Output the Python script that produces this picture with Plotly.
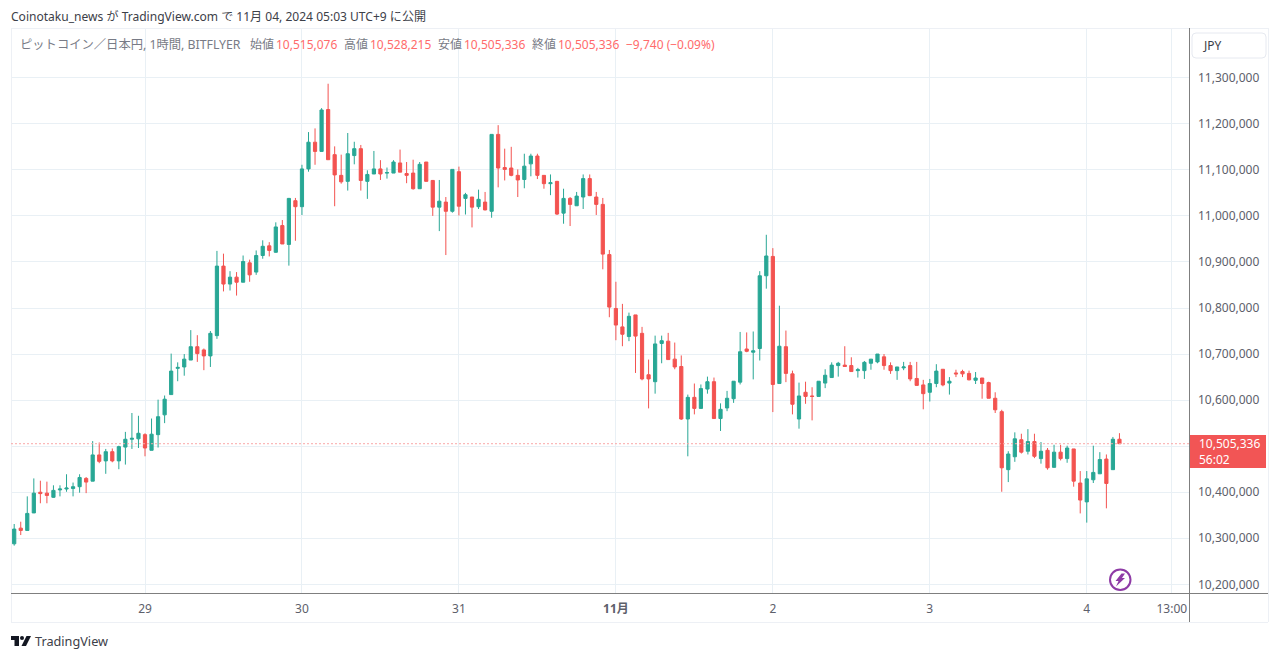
import pandas as pd
import plotly.graph_objects as go

# Hourly BTC/JPY candles, in thousands of yen
opens = [
    10288, 10322, 10317, 10355, 10400, 10398, 10389, 10405, 10407, 10408,
    10412, 10430, 10424, 10481, 10468, 10488, 10468, 10498, 10515, 10516,
    10525, 10491, 10525, 10568, 10612, 10669, 10672, 10687, 10716, 10709,
    10696, 10740, 10891, 10852, 10867, 10856, 10898, 10878, 10914, 10935,
    10921, 10979, 10938, 11033, 11020, 11102, 11160, 11140, 11231, 11133,
    11088, 11075, 11131, 11146, 11075, 11091, 11102, 11093, 11093, 11115,
    11092, 11093, 11059, 11117, 11077, 11019, 11030, 11010, 11096, 11038,
    11041, 11020, 11030, 11010, 11177, 11105, 11104, 11088, 11079, 11113,
    11130, 11088, 11070, 11075, 11006, 11038, 11022, 11041, 11081, 11041,
    11025, 10916, 10799, 10759, 10738, 10785, 10745, 10655, 10640, 10723,
    10728, 10689, 10673, 10559, 10606, 10582, 10624, 10640, 10560, 10583,
    10603, 10639, 10711, 10704, 10712, 10870, 10912, 10636, 10716, 10657,
    10559, 10617, 10609, 10608, 10637, 10649, 10675, 10676, 10675, 10664,
    10664, 10680, 10683, 10694, 10675, 10664, 10670, 10675, 10647, 10633,
    10617, 10636, 10667, 10637, 10659, 10662, 10658, 10643, 10648, 10638,
    10604, 10575, 10449, 10477, 10514, 10489, 10510, 10473, 10491, 10454,
    10487, 10473, 10494, 10420, 10379, 10427, 10440, 10472, 10449, 10515.076,
]
highs = [
    10331, 10336, 10391, 10430, 10425, 10423, 10415, 10415, 10439, 10421,
    10439, 10433, 10511, 10508, 10494, 10495, 10501, 10531, 10572, 10566,
    10528, 10560, 10601, 10610, 10701, 10682, 10700, 10752, 10741, 10712,
    10750, 10924, 10918, 10880, 10878, 10914, 10905, 10925, 10947, 10943,
    10986, 10991, 11039, 11039, 11111, 11182, 11190, 11234, 11287, 11151,
    11133, 11180, 11161, 11154, 11099, 11141, 11121, 11105, 11121, 11144,
    11117, 11122, 11117, 11117, 11078, 11078, 11041, 11101, 11107, 11050,
    11041, 11057, 11052, 11177, 11197, 11146, 11150, 11101, 11135, 11135,
    11135, 11088, 11090, 11076, 11059, 11041, 11052, 11090, 11090, 11052,
    11039, 10926, 10857, 10809, 10790, 10785, 10759, 10688, 10740, 10740,
    10746, 10725, 10697, 10612, 10636, 10634, 10651, 10649, 10593, 10620,
    10641, 10748, 10747, 10749, 10880, 10959, 10930, 10805, 10751, 10664,
    10638, 10640, 10628, 10641, 10667, 10682, 10683, 10717, 10693, 10670,
    10685, 10689, 10700, 10700, 10682, 10672, 10683, 10683, 10683, 10644,
    10646, 10678, 10667, 10650, 10666, 10666, 10664, 10661, 10648, 10640,
    10617, 10579, 10489, 10530, 10527, 10537, 10527, 10509, 10496, 10503,
    10503, 10501, 10494, 10446, 10446, 10501, 10487, 10482, 10520, 10528.215,
]
lows = [
    10284, 10307, 10317, 10355, 10376, 10376, 10388, 10391, 10401, 10391,
    10399, 10398, 10424, 10463, 10440, 10465, 10450, 10460, 10494, 10496,
    10478, 10491, 10497, 10550, 10612, 10641, 10653, 10687, 10683, 10665,
    10672, 10733, 10836, 10838, 10827, 10856, 10857, 10872, 10907, 10912,
    10920, 10939, 10892, 10946, 11002, 11096, 11111, 11140, 11122, 11021,
    11070, 11055, 11112, 11055, 11037, 11091, 11078, 11081, 11093, 11095,
    11071, 11057, 11059, 11075, 11000, 10967, 10915, 11007, 11001, 11003,
    10975, 11015, 11012, 10996, 11062, 11077, 11086, 11041, 11060, 11086,
    11080, 11059, 11045, 11002, 10983, 10978, 11022, 11015, 11043, 11002,
    10884, 10780, 10730, 10717, 10728, 10659, 10643, 10582, 10614, 10680,
    10688, 10667, 10557, 10478, 10569, 10582, 10614, 10560, 10533, 10576,
    10594, 10634, 10704, 10645, 10686, 10842, 10574, 10636, 10639, 10569,
    10538, 10592, 10556, 10608, 10626, 10649, 10651, 10673, 10662, 10649,
    10646, 10666, 10680, 10666, 10657, 10644, 10665, 10641, 10632, 10580,
    10597, 10628, 10630, 10612, 10650, 10650, 10643, 10635, 10603, 10604,
    10572, 10401, 10422, 10466, 10484, 10482, 10474, 10462, 10449, 10454,
    10469, 10464, 10412, 10354, 10334, 10420, 10440, 10365, 10449, 10505.336,
]
closes = [
    10320, 10317, 10354, 10398, 10397, 10393, 10404, 10407, 10409, 10412,
    10432, 10422, 10481, 10467, 10488, 10468, 10499, 10515, 10517, 10528,
    10496, 10526, 10564, 10602, 10663, 10671, 10689, 10716, 10701, 10696,
    10745, 10891, 10852, 10867, 10856, 10901, 10872, 10914, 10934, 10925,
    10976, 10939, 11038, 11020, 11102, 11160, 11140, 11230, 11122, 11089,
    11074, 11135, 11146, 11077, 11090, 11102, 11091, 11094, 11117, 11095,
    11088, 11059, 11112, 11075, 11019, 11032, 11010, 11101, 11021, 11046,
    11019, 11036, 11013, 11177, 11104, 11101, 11088, 11078, 11108, 11130,
    11088, 11070, 11072, 11004, 11038, 11025, 11043, 11081, 11044, 11025,
    10917, 10802, 10763, 10743, 10782, 10739, 10646, 10646, 10722, 10729,
    10688, 10672, 10559, 10606, 10582, 10625, 10640, 10560, 10580, 10604,
    10641, 10705, 10706, 10707, 10870, 10913, 10634, 10717, 10658, 10591,
    10609, 10608, 10608, 10641, 10654, 10676, 10680, 10673, 10662, 10666,
    10682, 10689, 10700, 10675, 10664, 10672, 10672, 10646, 10632, 10614,
    10636, 10663, 10633, 10641, 10657, 10657, 10644, 10648, 10636, 10604,
    10579, 10453, 10483, 10516, 10487, 10510, 10478, 10489, 10453, 10487,
    10473, 10496, 10424, 10383, 10429, 10443, 10471, 10419, 10515.076, 10505.336,
]

first_bar = "2024-10-28 04:00"
day_ticks = ["2024-10-29", "2024-10-30", "2024-10-31", "2024-11-01",
             "2024-11-02", "2024-11-03", "2024-11-04", "2024-11-04 13:00"]
day_labels = ["29", "30", "31", "<b>11月</b>", "2", "3", "4", "13:00"]
price_ticks = [10200000 + 100000 * i for i in range(12)]

UP = "#28A795"
DOWN = "#F35350"
GRID = "#E9F0F5"
TEXT = "#5D606B"
FONT = "Noto Sans, Noto Sans CJK JP, sans-serif"

# Pane geometry of the page, in pixels
W, H = 1280, 659
L, R, T, B = 11, 1189, 28, 594


def px(x):
    return (x - L) / (R - L)


def py(y):
    return (B - y) / (B - T)


def path(points):
    return "M" + " L".join(f"{px(a):.5f},{py(b):.5f}" for a, b in points) + " Z"


def line(x0, y0, x1, y1, color, width=1):
    return dict(type="line", xref="paper", yref="paper", layer="above",
                x0=px(x0), y0=py(y0), x1=px(x1), y1=py(y1),
                line=dict(color=color, width=width))


def label(x, y, text, size=12, color=TEXT, anchor="left"):
    return dict(xref="paper", yref="paper", x=px(x), y=py(y), text=text,
                showarrow=False, xanchor=anchor, yanchor="middle", align="left",
                font=dict(size=size, color=color, family=FONT),
                borderpad=0, borderwidth=0)


times = pd.date_range(first_bar, periods=len(opens), freq="h")
start = times[0]
per_hour = 6.54
x_range = [start + pd.Timedelta(hours=(L - 14.2) / per_hour),
           start + pd.Timedelta(hours=(R - 14.2) / per_hour)]
to_yen = lambda values: [round(v * 1000) for v in values]

fig = go.Figure(go.Candlestick(
    x=times,
    open=to_yen(opens), high=to_yen(highs), low=to_yen(lows), close=to_yen(closes),
    increasing=dict(line=dict(color=UP, width=1), fillcolor=UP),
    decreasing=dict(line=dict(color=DOWN, width=1), fillcolor=DOWN),
    whiskerwidth=0,
    showlegend=False,
))

last_close = to_yen(closes)[-1]
shapes = [
    # Pane frame, axis rules
    line(L, T + 0.5, 1268, T + 0.5, "#EDF0F5"),
    line(L + 0.5, T, L + 0.5, 622, "#EDF0F5"),
    line(L, 622.5, 1268, 622.5, "#EDF0F5"),
    line(1268.5, T, 1268.5, 622, "#EDF0F5"),
    line(L, B - 0.5, 1268, B - 0.5, "#7F7F7F"),
    line(R + 0.5, T, R + 0.5, 622, "#7F7F7F"),
    # Last price line
    dict(type="line", xref="paper", yref="y", x0=0, x1=1, y0=last_close, y1=last_close,
         line=dict(color="#F9A8A8", width=1, dash="2px,2px"), layer="above"),
    # Last price tag
    dict(type="rect", xref="paper", yref="paper", x0=px(R + 1), x1=px(1266), y0=py(468), y1=py(435),
         fillcolor="#F25555", line=dict(width=0), layer="above"),
    # Currency button
    dict(type="path", xref="paper", yref="paper", layer="above",
         path=(f"M{px(1196)},{py(33)} L{px(1262)},{py(33)} Q{px(1266)},{py(33)} {px(1266)},{py(37)} "
               f"L{px(1266)},{py(54)} Q{px(1266)},{py(58)} {px(1262)},{py(58)} L{px(1196)},{py(58)} "
               f"Q{px(1192)},{py(58)} {px(1192)},{py(54)} L{px(1192)},{py(37)} Q{px(1192)},{py(33)} {px(1196)},{py(33)} Z"),
         line=dict(color="#E6E9F0", width=1), fillcolor="white"),
    # Lightning badge
    dict(type="circle", xref="paper", yref="paper", layer="above",
         x0=px(1110), x1=px(1130.5), y0=py(590), y1=py(569.5),
         line=dict(color="#8E3BA6", width=2), fillcolor="white"),
    dict(type="path", xref="paper", yref="paper", layer="above",
         path=path([(1121.5, 573.5), (1125, 573.5), (1122, 578), (1125, 578),
                    (1116, 586.5), (1118.5, 581), (1115.5, 581)]),
         line=dict(width=0), fillcolor="#8E3BA6"),
    # Footer mark
    dict(type="path", xref="paper", yref="paper", layer="above",
         path=path([(11, 636), (19, 636), (19, 646), (14.5, 646), (14.5, 640), (11, 640)]),
         line=dict(width=0), fillcolor="#131722"),
    dict(type="circle", xref="paper", yref="paper", layer="above",
         x0=px(20), x1=px(24), y0=py(640), y1=py(636),
         line=dict(width=0), fillcolor="#131722"),
    dict(type="path", xref="paper", yref="paper", layer="above",
         path=path([(26.5, 636), (31, 636), (26, 646), (21.5, 646)]),
         line=dict(width=0), fillcolor="#131722"),
]

RED_TEXT = "#FF6B6B"
annotations = [
    label(11, 16, "Coinotaku_news が TradingView.com で 11月 04, 2024 05:03 UTC+9 に公開", size=12.05, color="#3C4048"),
    label(20, 44.5, "ピットコイン／日本円, 1時間, BITFLYER", size=12.3, color="#787B86"),
    label(250, 44.5, "始値", color="#787B86"),
    label(276, 44.5, "10,515,076", color=RED_TEXT),
    label(344, 44.5, "高値", color="#787B86"),
    label(370, 44.5, "10,528,215", color=RED_TEXT),
    label(438, 44.5, "安値", color="#787B86"),
    label(464, 44.5, "10,505,336", color=RED_TEXT),
    label(532, 44.5, "終値", color="#787B86"),
    label(558, 44.5, "10,505,336", color=RED_TEXT),
    label(626, 44.5, "−9,740 (−0.09%)", color=RED_TEXT),
    label(1203, 45, "JPY", color="#3C4048"),
    label(1199, 451, "10,505,336<br>56:02", color="white"),
    label(35, 641, "TradingView", size=12.7, color="#3C4048"),
]

fig.update_layout(
    width=W, height=H, autosize=False,
    margin=dict(l=L, r=W - R, t=T, b=H - B, pad=0),
    paper_bgcolor="white", plot_bgcolor="white",
    font=dict(family=FONT, size=12, color=TEXT),
    xaxis=dict(
        type="date", range=x_range, rangeslider=dict(visible=False),
        tickmode="array", tickvals=day_ticks, ticktext=day_labels, tickangle=0,
        showgrid=True, gridcolor=GRID, gridwidth=1, zeroline=False,
        ticks="", showline=False, ticklabelstandoff=6,
        tickfont=dict(size=12, color=TEXT, family=FONT),
    ),
    yaxis=dict(
        side="right", range=[10179000, 11408000],
        tickmode="array", tickvals=price_ticks, tickformat=",d",
        showgrid=True, gridcolor=GRID, gridwidth=1, zeroline=False,
        ticks="", showline=False, ticklabelstandoff=8,
        tickfont=dict(size=12, color=TEXT, family=FONT),
    ),
    shapes=shapes, annotations=annotations,
    hovermode=False,
)

fig.write_html("out.html", config=dict(displayModeBar=False))
